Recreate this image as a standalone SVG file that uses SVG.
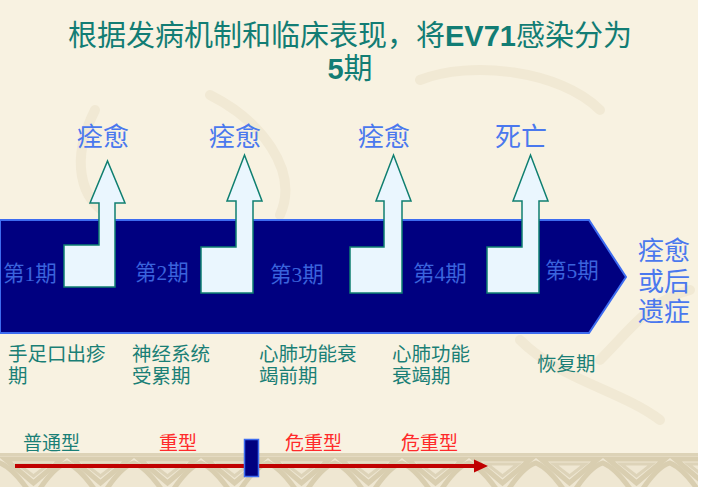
<svg xmlns="http://www.w3.org/2000/svg" width="708" height="487" viewBox="0 0 708 487">
  <style>
    .title{font-family:"Liberation Sans","Noto Sans CJK SC",sans-serif;font-size:29px;fill:#127d74;text-anchor:middle}
    .b{font-weight:bold}
    .top{font-family:"Liberation Serif","Noto Sans CJK SC",serif;font-size:26px;fill:#4a78ee;text-anchor:middle}
    .stage{font-family:"Liberation Serif","Noto Sans CJK SC",serif;font-size:21.5px;fill:#3a63dc}
    .desc{font-family:"Liberation Sans","Noto Sans CJK SC",sans-serif;font-size:19.5px;fill:#1a7f76}
    .typ{font-family:"Liberation Sans","Noto Sans CJK SC",sans-serif;font-size:19px}
    .arrow{fill:#eaf6fe;stroke:#0f7f70;stroke-width:1.5}
  </style>
  <defs>
    <pattern id="knot" x="0" y="453" width="67" height="34" patternUnits="userSpaceOnUse">
      <rect width="67" height="34" fill="#efe7d2"/>
      <path d="M5,6 H62 L33.5,30 Z" fill="none" stroke="#d9ceb0" stroke-width="5"/>
      <path d="M18,11 H49 L33.5,23 Z" fill="none" stroke="#ddd3b8" stroke-width="3"/>
      <path d="M-30,40 C-15,20 -5,12 0,10 C10,14 20,25 30,40 M37,40 C50,20 60,12 67,10 C77,14 87,25 97,40" fill="none" stroke="#d9ceb0" stroke-width="5"/>
      <rect x="0" y="0" width="67" height="3" fill="#ddd3b7"/>
    </pattern>
  </defs>

  <!-- background -->
  <rect x="0" y="0" width="708" height="487" fill="#ffffff"/>
  <rect x="0" y="0" width="698" height="487" fill="#f8f2e1"/>
  <g fill="none" stroke="#f1e9d4" stroke-width="10" stroke-linecap="round">
    <path d="M95,110 C70,160 80,200 110,215"/>
    <path d="M210,95 C260,120 300,170 280,215"/>
    <path d="M420,80 C470,60 560,70 600,110"/>
    <path d="M520,340 C560,380 620,390 660,420"/>
    <path d="M600,360 C630,330 650,300 690,290"/>
  </g>
  <rect x="0" y="453" width="698" height="34" fill="url(#knot)"/>

  <!-- title -->
  <g id="title">
    <text class="title" x="350" y="46">根据发病机制和临床表现，将<tspan class="b">EV71</tspan>感染分为</text>
    <text class="title" x="350" y="79"><tspan class="b">5</tspan>期</text>
  </g>

  <!-- timeline band -->
  <g id="band">
    <path d="M0,220 H589 L626,277 L589,333 H0 Z" fill="#000080" stroke="#3d6cf0" stroke-width="2"/>
  </g>

  <!-- connectors: outcome arrows -->
  <g id="connectors">
    <path class="arrow" d="M64,245 H99 V203 H90 L107.5,161 L125,203 H115 V287 H64 Z"/>
    <path class="arrow" d="M201,247 H236 V201 H227 L244.5,155 L262,201 H253 V293 H201 Z"/>
    <path class="arrow" d="M350,247 H384 V201 H376 L393.5,155 L411,201 H402 V293 H350 Z"/>
    <path class="arrow" d="M487,247 H522 V201 H513 L530.5,155 L548,201 H539 V293 H487 Z"/>
  </g>

  <!-- outcome labels -->
  <g id="outcome1"><text class="top" x="103" y="146">痊愈</text></g>
  <g id="outcome2"><text class="top" x="235" y="146">痊愈</text></g>
  <g id="outcome3"><text class="top" x="384" y="146">痊愈</text></g>
  <g id="outcome4"><text class="top" x="521" y="146">死亡</text></g>
  <g id="outcome5">
    <text class="top" x="664" y="260">痊愈</text>
    <text class="top" x="664" y="291">或后</text>
    <text class="top" x="664" y="321">遗症</text>
  </g>

  <!-- stages -->
  <g id="stage1"><text class="stage" x="3" y="281">第1期</text></g>
  <g id="stage2"><text class="stage" x="135" y="280">第2期</text></g>
  <g id="stage3"><text class="stage" x="270" y="282">第3期</text></g>
  <g id="stage4"><text class="stage" x="413" y="281">第4期</text></g>
  <g id="stage5"><text class="stage" x="545" y="278">第5期</text></g>

  <!-- descriptions -->
  <g id="desc1">
    <text class="desc" x="8" y="361">手足口出疹</text>
    <text class="desc" x="8" y="383">期</text>
  </g>
  <g id="desc2">
    <text class="desc" x="132" y="361">神经系统</text>
    <text class="desc" x="132" y="383">受累期</text>
  </g>
  <g id="desc3">
    <text class="desc" x="259" y="361">心肺功能衰</text>
    <text class="desc" x="259" y="383">竭前期</text>
  </g>
  <g id="desc4">
    <text class="desc" x="392" y="361">心肺功能</text>
    <text class="desc" x="392" y="383">衰竭期</text>
  </g>
  <g id="desc5">
    <text class="desc" x="537" y="371">恢复期</text>
  </g>

  <!-- severity axis -->
  <g id="severity">
    <line x1="15" y1="466" x2="476" y2="466" stroke="#c00000" stroke-width="4"/>
    <polygon points="474,459.5 488,466 474,472.5" fill="#c00000"/>
    <rect x="244.5" y="439.5" width="14" height="37" fill="#000080" stroke="#3d6cf0" stroke-width="1.5"/>
    <text class="typ" x="23" y="450" fill="#1a7f76">普通型</text>
    <text class="typ" x="159" y="450" fill="#ff2a2a">重型</text>
    <text class="typ" x="285" y="450" fill="#ff2a2a">危重型</text>
    <text class="typ" x="401" y="450" fill="#ff2a2a">危重型</text>
  </g>
</svg>
